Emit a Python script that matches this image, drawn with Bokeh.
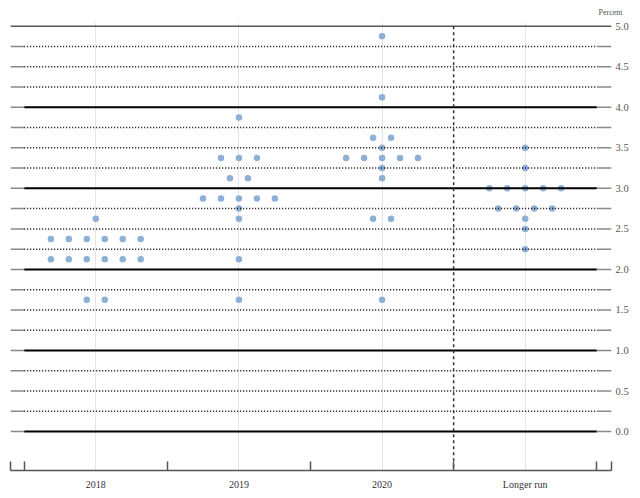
from bokeh.plotting import figure
from bokeh.models import (FixedTicker, Range1d, LinearAxis, PrintfTickFormatter)
from bokeh.embed import file_html
from bokeh.resources import INLINE

# ---- data ----
columns = ["2018", "2019", "2020", "Longer run"]
rates_2018 = [1.625, 2.125, 2.375, 2.625]
counts_2018 = [2, 6, 6, 1]
rates_2019 = [1.625, 2.125, 2.625, 2.75, 2.875, 3.125, 3.375, 3.875]
counts_2019 = [1, 1, 1, 1, 5, 2, 3, 1]
rates_2020 = [1.625, 2.625, 3.125, 3.25, 3.375, 3.5, 3.625, 4.125, 4.875]
counts_2020 = [1, 2, 1, 1, 5, 1, 2, 1, 1]
rates_lr = [2.25, 2.5, 2.625, 2.75, 3.0, 3.25, 3.5]
counts_lr = [1, 1, 1, 4, 5, 1, 1]
y_labels = [0.0, 0.5, 1.0, 1.5, 2.0, 2.5, 3.0, 3.5, 4.0, 4.5, 5.0]
y_levels = [0.0, 0.25, 0.5, 0.75, 1.0, 1.25, 1.5, 1.75, 2.0, 2.25, 2.5, 2.75,
            3.0, 3.25, 3.5, 3.75, 4.0, 4.25, 4.5, 4.75, 5.0]

# ---- layout constants ----
X0, X1 = -0.5957, 3.6027
Y0, Y1 = -0.480, 5.0455
DOT_GAP = 0.1255
DOT_COLOR = "#8fb0d6"
SERIF = "Liberation Serif"

p = figure(width=638, height=496, output_backend="svg", toolbar_location=None,
           x_range=Range1d(X0, X1), y_range=Range1d(Y0, Y1),
           x_axis_location=None, y_axis_location=None,
           min_border_left=10, min_border_right=27, min_border_top=21,
           min_border_bottom=26)
p.outline_line_color = None
p.background_fill_color = "white"
p.border_fill_color = "white"

# dots
xs, ys = [], []
for ci, (rates, counts) in enumerate([(rates_2018, counts_2018), (rates_2019, counts_2019),
                                      (rates_2020, counts_2020), (rates_lr, counts_lr)]):
    for r, n in zip(rates, counts):
        for i in range(n):
            xs.append(ci + (i - (n - 1) / 2) * DOT_GAP)
            ys.append(r)
p.scatter(x=xs, y=ys, size=6.5, fill_color=DOT_COLOR, line_color=None)

# horizontal lines
inner = [v for v in y_levels if v < 5.0]
solid = [v for v in inner if float(v).is_integer()]
dotted = [v for v in inner if not float(v).is_integer()]
p.segment(x0=[-0.5] * len(dotted), x1=[3.5] * len(dotted), y0=dotted, y1=dotted,
          line_color="black", line_width=1.5, line_dash="1 2")
p.segment(x0=[-0.5] * len(solid), x1=[3.5] * len(solid), y0=solid, y1=solid,
          line_color="black", line_width=2)
# tick stubs on both ends
p.segment(x0=[X0] * len(inner), x1=[-0.5] * len(inner), y0=inner, y1=inner,
          line_color="#888888", line_width=1.5)
p.segment(x0=[3.5] * len(inner), x1=[X1] * len(inner), y0=inner, y1=inner,
          line_color="#888888", line_width=1.5)
# top line
p.segment(x0=[X0], x1=[X1], y0=[5.0], y1=[5.0], line_color="#555555", line_width=1.5)

# vertical separator before longer run
p.segment(x0=[2.5], x1=[2.5], y0=[5.0], y1=[Y0], line_color="#333333",
          line_width=1.5, line_dash="3 3")

# right axis with labels
yax = LinearAxis(ticker=FixedTicker(ticks=y_labels),
                 formatter=PrintfTickFormatter(format="%.1f"),
                 axis_line_color=None, major_tick_line_color=None,
                 minor_tick_line_color=None,
                 major_tick_in=0, major_tick_out=0, minor_tick_in=0, minor_tick_out=0,
                 axis_label_standoff=0, major_label_standoff=4,
                 major_label_text_font=SERIF,
                 major_label_text_font_size="10.5px",
                 major_label_text_color="#555555")
p.add_layout(yax, "right")

# bottom axis with category labels
xax = LinearAxis(ticker=FixedTicker(ticks=[0, 1, 2, 3],
                                    minor_ticks=[X0 + 0.0005, -0.5, 0.5, 1.5, 2.5, 3.5, X1 - 0.0005]),
                 major_label_overrides={0: columns[0], 1: columns[1], 2: columns[2], 3: columns[3]},
                 axis_line_color="#555555", axis_line_width=1.5,
                 major_tick_line_color=None, major_tick_in=0, major_tick_out=0,
                 minor_tick_in=9, minor_tick_out=0,
                 minor_tick_line_color="#555555", minor_tick_line_width=1.5,
                 axis_label_standoff=0, major_label_standoff=8,
                 major_label_text_font=SERIF,
                 major_label_text_font_size="10px",
                 major_label_text_color="#333333")
p.add_layout(xax, "below")

# title
p.title.text = "Percent"
p.title.align = "right"
p.title.offset = -11
p.title.standoff = 11
p.title.text_font = SERIF
p.title.text_font_size = "8px"
p.title.text_font_style = "normal"
p.title.text_color = "#555555"

open("out.html", "w").write(file_html(p, INLINE))
